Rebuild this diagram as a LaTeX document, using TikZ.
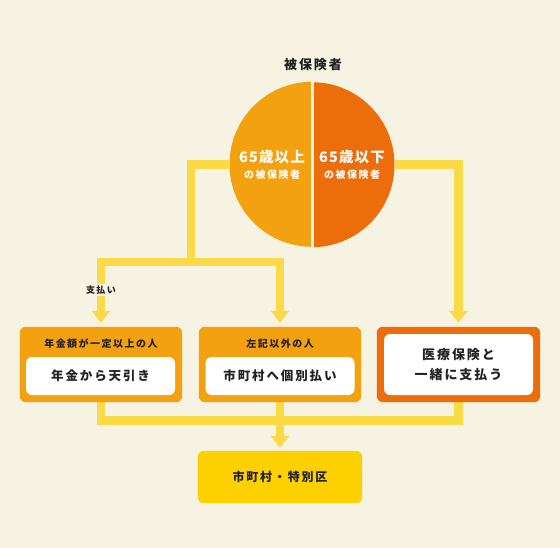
\documentclass[tikz,border=0pt]{standalone}
\usepackage{fontspec}
\newfontfamily\jp[LetterSpace=15]{Noto Sans CJK JP}
\newfontfamily\jpt[LetterSpace=8]{Noto Sans CJK JP}
\usetikzlibrary{arrows.meta}
\definecolor{bg}{HTML}{F7F3E2}
\definecolor{orL}{HTML}{F4A10F}
\definecolor{orR}{HTML}{EE6D0B}
\definecolor{yl}{HTML}{FBDA48}
\definecolor{gold}{HTML}{FDD000}
\definecolor{ink}{HTML}{222222}
\begin{document}
\begin{tikzpicture}[x=1pt,y=-1pt,
  conn/.style={draw=yl, line width=8.5pt},
  arr/.style={conn, -{Triangle[width=18pt,length=12pt]}},
  obox/.style={rounded corners=6pt, minimum width=162pt, minimum height=75pt, inner sep=0pt},
  wbox/.style={fill=white, rounded corners=6pt, minimum width=149pt, inner sep=0pt},
  ttl/.style={font=\jp\bfseries\fontsize{10}{12}\selectfont, text=ink},
  big/.style={font=\jp\bfseries\fontsize{12.5}{15}\selectfont, text=ink},
  ctop/.style={font=\jpt\bfseries\fontsize{14.5}{18}\selectfont, text=white},
  csub/.style={font=\jp\bfseries\fontsize{10}{12}\selectfont, text=white}]
\fill[bg] (0,0) rectangle (560,548);
\useasboundingbox (0,0) rectangle (560,548);
% title
\node[font=\jp\bfseries\fontsize{13}{15}\selectfont, text=ink] (title) at (313,65) {被保険者};
% circle
\node[circle, minimum size=165pt, inner sep=0pt] (circ) at (312,164.5) {};
% boxes (positions)
\node[obox] (b1) at (101,364.5) {};
\node[obox] (b2) at (280,364.5) {};
\node[obox, minimum width=163pt] (b3) at (458.5,364.5) {};
\node[rounded corners=6pt, minimum width=164pt, minimum height=52pt, inner sep=0pt] (b4) at (280,477) {};
\coordinate (k1) at (191,164.5);
\coordinate (k2) at (191,262);
\coordinate (m) at (280,420.5);
% connectors
\draw[conn] (circ.west) -- (k1) -- (k2);
\draw[arr, shorten >=4pt] (k2) -| (b1.north);
\draw[arr, shorten >=4pt] (k2) -| (b2.north);
\draw[arr, shorten >=4pt] (circ.east) -| (b3.north);
\draw[conn] (b1.south) |- (m) -| (b3.south);
\draw[arr, shorten >=3pt] (b2.south) -- (b4.north);
\node[fill=bg, inner sep=2pt, font=\jp\bfseries\fontsize{9}{10}\selectfont, text=ink] (pay) at (101,290) {支払い};
% circle halves
\fill[orL] (circ.north) arc[start angle=90, end angle=270, radius=82.5pt] -- cycle;
\fill[orR] (circ.south) arc[start angle=-90, end angle=90, radius=82.5pt] -- cycle;
\draw[bg, line width=3pt] (circ.north) -- (circ.south);
\node[ctop] (l1) at (272,157) {65歳以上};
\node[csub] (l2) at (272,175) {の被保険者};
\node[ctop] (r1) at (352,157) {65歳以下};
\node[csub] (r2) at (352,175) {の被保険者};
% box fills
\fill[orL, rounded corners=6pt] (b1.south west) rectangle (b1.north east);
\fill[orL, rounded corners=6pt] (b2.south west) rectangle (b2.north east);
\fill[orR, rounded corners=6pt] (b3.south west) rectangle (b3.north east);
\fill[gold, rounded corners=6pt] (b4.south west) rectangle (b4.north east);
\node[ttl] (t1) at (101,344) {年金額が一定以上の人};
\node[wbox, minimum height=38pt] (w1) at (100.5,376) {};
\node[big] at (w1) {年金から天引き};
\node[ttl] (t2) at (280,344) {左記以外の人};
\node[wbox, minimum height=38pt] (w2) at (280,376) {};
\node[big] at (w2) {市町村へ個別払い};
\node[wbox, minimum height=61pt] (w3) at (458.5,364.5) {};
\node[big, font=\jp\bfseries\fontsize{13}{20}\selectfont, align=center] at (w3) {医療保険と\\一緒に支払う};
\node[big, font=\jp\bfseries\fontsize{12}{14}\selectfont] (t4) at (b4) {市町村・特別区};
\end{tikzpicture}
\end{document}
